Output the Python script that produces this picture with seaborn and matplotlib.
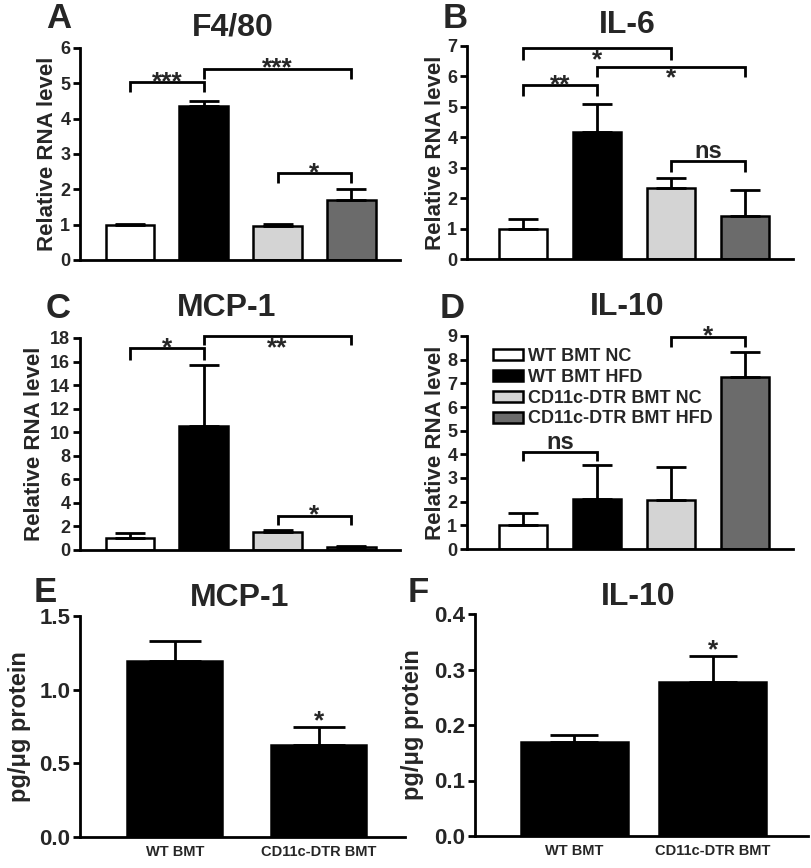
import matplotlib
matplotlib.use("Agg")
import matplotlib.pyplot as plt
from matplotlib.patches import Patch
import seaborn as sns
import pandas as pd
import numpy as np

# ---------------- data ----------------
groups = ["WT BMT NC", "WT BMT HFD", "CD11c-DTR BMT NC", "CD11c-DTR BMT HFD"]
group_colors = ["#ffffff", "#000000", "#d4d4d4", "#6b6b6b"]

f480_mean = [1.00, 4.35, 0.95, 1.70]
f480_err = [0.02, 0.14, 0.08, 0.32]
il6_mean = [1.00, 4.18, 2.32, 1.42]
il6_err = [0.32, 0.92, 0.35, 0.86]
mcp1_mean = [1.00, 10.5, 1.50, 0.23]
mcp1_err = [0.42, 5.25, 0.20, 0.11]
il10_mean = [1.00, 2.13, 2.06, 7.25]
il10_err = [0.54, 1.42, 1.42, 1.09]

prot_groups = ["WT BMT", "CD11c-DTR BMT"]
mcp1_prot_mean = [1.197, 0.626]
mcp1_prot_err = [0.136, 0.120]
il10_prot_mean = [0.170, 0.277]
il10_prot_err = [0.012, 0.047]

# significance brackets: (left group, right group, height, drop, label, label side)
f480_sig = [(0, 1, 5.03, 0.27, "***", "above"), (1, 3, 5.41, 0.30, "***", "above"),
            (2, 3, 2.46, 0.29, "*", "above")]
il6_sig = [(0, 2, 6.92, 0.38, "*", "below"), (1, 3, 6.32, 0.35, "*", "below"),
           (0, 1, 5.72, 0.36, "**", "above"), (2, 3, 3.22, 0.35, "ns", "above")]
mcp1_sig = [(0, 1, 17.15, 1.0, "*", "above"), (1, 3, 18.14, 0.75, "**", "below"),
            (2, 3, 2.92, 0.80, "*", "above")]
il10_sig = [(2, 3, 8.97, 0.42, "*", "above"), (0, 1, 4.11, 0.38, "ns", "above")]

# ---------------- style ----------------
sns.set_theme(style="ticks")
plt.rcParams["font.family"] = ["Liberation Sans", "DejaVu Sans"]
plt.rcParams["font.weight"] = "bold"
plt.rcParams["axes.linewidth"] = 2.0

fig = plt.figure(figsize=(8.11, 8.68), dpi=100)
W, H = 811.0, 868.0


def add_ax(left, right, bottom, top):
    return fig.add_axes([left / W, 1 - bottom / H, (right - left) / W, (bottom - top) / H])


def style_ax(ax, ymax, yticks, ylabel, label_x, tick_fs, label_fs, fmt=None):
    sns.despine(ax=ax)
    ax.set_ylim(0, ymax)
    ax.set_yticks(yticks)
    if fmt:
        ax.set_yticklabels([fmt.format(t) for t in yticks])
    ax.tick_params(axis="y", length=5, width=2, labelsize=tick_fs, pad=2, color="black")
    for lab in ax.get_yticklabels():
        lab.set_fontweight("bold")
    ax.set_ylabel(ylabel, fontsize=label_fs, fontweight="bold")
    ax.yaxis.set_label_coords(label_x, 0.5)
    ax.set_xlabel("")
    for s in ("left", "bottom"):
        ax.spines[s].set_color("black")
        ax.spines[s].set_linewidth(2.0)


def bars(ax, cats, means, errs, colors, width, capsize):
    df = pd.DataFrame({"group": cats, "value": means})
    sns.barplot(data=df, x="group", y="value", hue="group", palette=colors,
                order=cats, hue_order=cats, dodge=False, legend=False,
                width=width, edgecolor="black", linewidth=1.8, errorbar=None, ax=ax)
    x = np.arange(len(cats))
    ax.errorbar(x, means, yerr=[np.zeros(len(cats)), errs], fmt="none",
                ecolor="black", elinewidth=2, capsize=capsize, capthick=2, zorder=3)


def brackets(ax, sig):
    for (a, b, y, d, lab, side) in sig:
        ax.plot([a, a, b, b], [y - d, y, y, y - d], color="black", lw=2,
                clip_on=False, solid_capstyle="butt", solid_joinstyle="miter")
        fs = 17 if lab == "ns" else 19
        if side == "above":
            off = 2 if lab == "ns" else -5
            ax.annotate(lab, xy=((a + b) / 2, y), xytext=(0, off), textcoords="offset points",
                        ha="center", va="baseline", fontsize=fs, fontweight="bold",
                        annotation_clip=False)
        else:
            ax.annotate(lab, xy=((a + b) / 2, y), xytext=(0, 0), textcoords="offset points",
                        ha="center", va="top", fontsize=fs, fontweight="bold",
                        annotation_clip=False)


def panel_text(x, y, s, size):
    fig.text(x / W, 1 - y / H, s, ha="center", va="center", fontsize=size, fontweight="bold")


# ---------------- panels A-D ----------------
specs = [
    ((80, 400, 260, 48), f480_mean, f480_err, f480_sig, 6, range(0, 7), (-0.678, 3.66), -0.069),
    ((467, 793, 259, 46), il6_mean, il6_err, il6_sig, 7, range(0, 8), (-0.757, 3.65), -0.063),
    ((80, 400, 550, 338), mcp1_mean, mcp1_err, mcp1_sig, 18, range(0, 19, 2), (-0.678, 3.66), -0.108),
    ((467, 793, 549, 336), il10_mean, il10_err, il10_sig, 9, range(0, 10), (-0.757, 3.65), -0.063),
]
axes = []
for (box, m, e, sig, ymax, yt, xl, lx) in specs:
    ax = add_ax(*box)
    bars(ax, groups, m, e, group_colors, 0.66, 11)
    style_ax(ax, ymax, list(yt), "Relative RNA level", lx, 13, 16)
    ax.set_xlim(*xl)
    ax.set_xticks([])
    brackets(ax, sig)
    axes.append(ax)

handles = [Patch(facecolor=c, edgecolor="black", linewidth=1.8) for c in group_colors]
leg = axes[3].legend(handles, groups, loc="upper left", bbox_to_anchor=(0.04, 1.005),
                     frameon=False, handlelength=1.7, handleheight=0.55, handletextpad=0.25,
                     labelspacing=0.22, borderpad=0.2,
                     prop={"size": 13, "weight": "bold"})

# ---------------- panels E-F ----------------
axE = add_ax(80, 405, 837, 616)
bars(axE, prot_groups, mcp1_prot_mean, mcp1_prot_err, ["#000000", "#000000"], 0.66, 19)
style_ax(axE, 1.5, [0.0, 0.5, 1.0, 1.5], "pg/\u03bcg protein", -0.150, 16, 17, "{:.1f}")
axE.set_xlim(-0.66, 1.60)
axE.tick_params(axis="x", length=0, labelsize=10.5, pad=6)
for lab in axE.get_xticklabels():
    lab.set_fontweight("bold")
axE.annotate("*", xy=(1, mcp1_prot_mean[1] + mcp1_prot_err[1]), xytext=(0, -1),
             textcoords="offset points", ha="center", va="baseline", fontsize=19,
             fontweight="bold")

axF = add_ax(475, 808, 836, 614)
bars(axF, prot_groups, il10_prot_mean, il10_prot_err, ["#000000", "#000000"], 0.775, 17)
style_ax(axF, 0.4, [0.0, 0.1, 0.2, 0.3, 0.4], "pg/\u03bcg protein", -0.152, 16, 17, "{:.1f}")
axF.set_xlim(-0.72, 1.69)
axF.tick_params(axis="x", length=0, labelsize=10.5, pad=6)
for lab in axF.get_xticklabels():
    lab.set_fontweight("bold")
axF.annotate("*", xy=(1, il10_prot_mean[1] + il10_prot_err[1]), xytext=(0, -1),
             textcoords="offset points", ha="center", va="baseline", fontsize=19,
             fontweight="bold")

# ---------------- letters and titles ----------------
for (x, y, s) in [(59, 19, "A"), (455, 19, "B"), (58, 309, "C"), (452, 309, "D"),
                  (45, 592, "E"), (418, 592, "F")]:
    panel_text(x, y, s, 25)
for (x, y, s) in [(233, 27, "F4/80"), (627, 25, "IL-6"), (227, 308, "MCP-1"),
                  (627, 307, "IL-10"), (240, 598, "MCP-1"), (638, 597, "IL-10")]:
    panel_text(x, y, s, 23)

fig.savefig("out.png", dpi=100, facecolor="white")
